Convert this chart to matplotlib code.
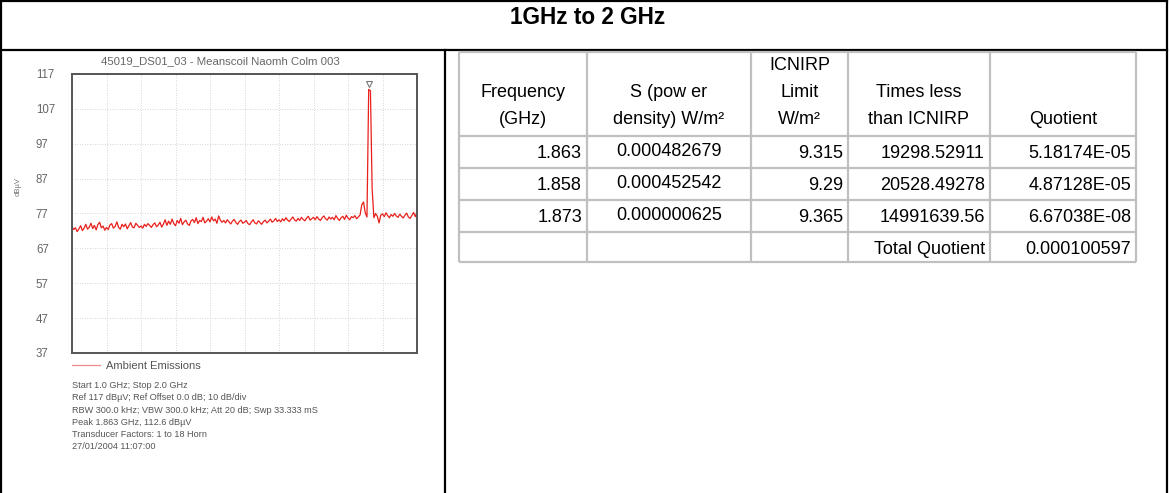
import numpy as np
import matplotlib
matplotlib.use('Agg')
import matplotlib.pyplot as plt

plt.rcParams['font.family'] = ['Liberation Sans', 'DejaVu Sans']

# spectrum analyser trace, 1.0 - 2.0 GHz, 5 MHz steps
level = [
    73.2, 72.4, 72.9, 71.8, 72.6, 73.5, 72.1, 72.8, 73.9, 72.5,
    73.1, 74.2, 72.7, 73.6, 72.3, 73.8, 74.5, 72.9, 73.4, 72.2,
    73.0, 72.4, 73.7, 74.1, 72.8, 73.3, 74.6, 73.0, 72.5, 73.9,
    73.2, 74.0, 72.6, 73.5, 74.4, 73.1, 72.9, 74.2, 73.6, 73.0,
    73.4, 72.8, 73.9, 73.3, 74.1, 73.6, 73.0, 73.8, 74.3, 73.2,
    73.7, 74.5, 73.1, 74.0, 75.2, 73.6, 74.8, 73.9, 75.4, 74.1,
    73.5, 75.0, 74.2, 75.6, 73.8, 74.6, 75.1, 74.0, 73.6, 74.9,
    75.3, 74.4, 75.8, 74.1, 75.0, 74.7, 75.9, 74.3, 74.8, 75.5,
    74.6, 76.0, 74.9, 75.4, 74.2, 76.3, 75.1, 74.5, 75.0, 74.3,
    75.2, 74.6, 74.0, 74.8, 75.3, 74.4, 73.9, 74.7, 75.1, 74.2,
    74.5, 75.0, 74.1, 73.8, 74.6, 75.2, 74.3, 74.0, 74.9, 74.4,
    73.9, 74.7, 75.1, 74.3, 74.8, 75.4, 74.5, 74.9, 75.6, 74.7,
    75.2, 74.6, 75.5, 74.9, 75.8, 75.1, 74.7, 75.4, 76.0, 75.2,
    74.8, 75.6, 75.0, 75.9, 75.3, 74.9, 75.7, 76.2, 75.1, 75.5,
    75.9, 75.2, 76.1, 75.4, 75.0, 75.8, 76.3, 75.5, 75.1, 76.0,
    75.4, 75.9, 75.2, 76.4, 75.6, 75.0, 75.8, 76.2, 75.3, 76.5,
    75.7, 75.2, 76.1, 75.8, 76.4, 75.5, 76.0, 76.6, 79.5, 80.3,
    77.2, 76.0, 112.6, 112.2, 84.1, 75.8, 77.0, 76.2, 74.3, 76.5,
    76.9, 76.1, 77.2, 76.4, 75.8, 76.7, 76.2, 77.0, 76.3, 75.9,
    76.8, 76.2, 75.7, 76.5, 77.1, 76.0, 75.6, 76.4, 77.3, 76.1,
    77.4,
]
f_start, f_stop = 1.0, 2.0
freq = np.linspace(f_start, f_stop, len(level))

y_ticks = [37, 47, 57, 67, 77, 87, 97, 107, 117]

info_lines = [
    'Start 1.0 GHz; Stop 2.0 GHz',
    'Ref 117 dBµV; Ref Offset 0.0 dB; 10 dB/div',
    'RBW 300.0 kHz; VBW 300.0 kHz; Att 20 dB; Swp 33.333 mS',
    'Peak 1.863 GHz, 112.6 dBµV',
    'Transducer Factors: 1 to 18 Horn',
    '27/01/2004 11:07:00',
]

# table
headers = ['Frequency\n(GHz)', 'S (pow er\ndensity) W/m²', 'ICNIRP\nLimit\nW/m²',
           'Times less\nthan ICNIRP', 'Quotient']
freq_ghz = ['1.863', '1.858', '1.873', '']
power_density = ['0.000482679', '0.000452542', '0.000000625', '']
icnirp_limit = ['9.315', '9.29', '9.365', '']
times_less = ['19298.52911', '20528.49278', '14991639.56', 'Total Quotient']
quotient = ['5.18174E-05', '4.87128E-05', '6.67038E-08', '0.000100597']
columns = [freq_ghz, power_density, icnirp_limit, times_less, quotient]

W, H = 1170, 493
fig = plt.figure(figsize=(W / 100, H / 100), dpi=100)

# page overlay in pixel coords for frame + table
page = fig.add_axes([0, 0, 1, 1])
page.set_xlim(0, W)
page.set_ylim(H, 0)
page.axis('off')

blk = dict(color='black', lw=1.6)
page.plot([0, 1167], [1, 1], **blk)
page.plot([1, 1], [0, H], **blk)
page.plot([1167, 1167], [0, H], **blk)
page.plot([0, 1167], [50, 50], **blk)
page.plot([445, 445], [50, H], **blk)

page.text(588, 18, '1GHz to 2 GHz', ha='center', va='center',
          fontsize=16.3, fontweight='bold')

col_x = [459, 587, 751, 848, 990, 1136]
row_y = [52, 136, 168, 200, 232, 262]
page.vlines(col_x, row_y[0], row_y[-1], color='#c0c0c0', lw=1.6)
page.hlines(row_y, col_x[0], col_x[-1], color='#c0c0c0', lw=1.6)

for i, head in enumerate(headers):
    cx = (col_x[i] + col_x[i + 1]) / 2
    for k, line in enumerate(reversed(head.split('\n'))):
        page.text(cx, 124 - 27 * k, line, ha='center', va='baseline', fontsize=13)

for i, col in enumerate(columns):
    for r, val in enumerate(col):
        base = row_y[r + 1] + 22.5
        if i == 1:
            page.text((col_x[i] + col_x[i + 1]) / 2, base - 2, val,
                      ha='center', va='baseline', fontsize=13)
        else:
            page.text(col_x[i + 1] - 5, base, val, ha='right', va='baseline', fontsize=13)

# spectrum plot
ax = fig.add_axes([72 / W, 1 - 353 / H, 345 / W, 279 / H])
ax.plot(freq, level, color='#e8201c', lw=0.9, label='Ambient Emissions')
pk = int(np.argmax(level))
ax.plot(freq[pk], level[pk] + 1.4, marker='v', ms=4.5, mfc='white', mec='#777777', mew=0.8)

ax.set_xlim(f_start, f_stop)
ax.set_ylim(y_ticks[0], y_ticks[-1])
ax.set_yticks(y_ticks)
ax.set_xticks(np.arange(10, 20) / 10)
ax.set_xticklabels([])
ax.tick_params(length=0, labelsize=8.3, colors='#666666', pad=26)
for lbl in ax.get_yticklabels():
    lbl.set_horizontalalignment('left')
ax.grid(True, color='#c8c8c8', lw=0.6, linestyle=(0, (1, 2)))
for s in ax.spines.values():
    s.set_color('#555555')
    s.set_linewidth(1.4)
ax.set_ylabel('dBµV', fontsize=5.5, color='#777777')
ax.yaxis.set_label_coords(-0.145, 0.595)
ax.set_title('45019_DS01_03 - Meanscoil Naomh Colm 003', fontsize=8.2,
             color='#666666', x=0.43, pad=7)

leg = ax.legend(loc='upper left', bbox_to_anchor=(0, -0.03), frameon=False,
                fontsize=8, borderpad=0, borderaxespad=0, handlelength=2.5,
                handletextpad=0.55)
leg.get_lines()[0].set_color('#f08a8a')
for t in leg.get_texts():
    t.set_color('#555555')

page.text(72, 381, '\n'.join(info_lines), ha='left', va='top', fontsize=6.6,
          color='#555555', linespacing=1.47)

fig.savefig('out.png', dpi=100)
